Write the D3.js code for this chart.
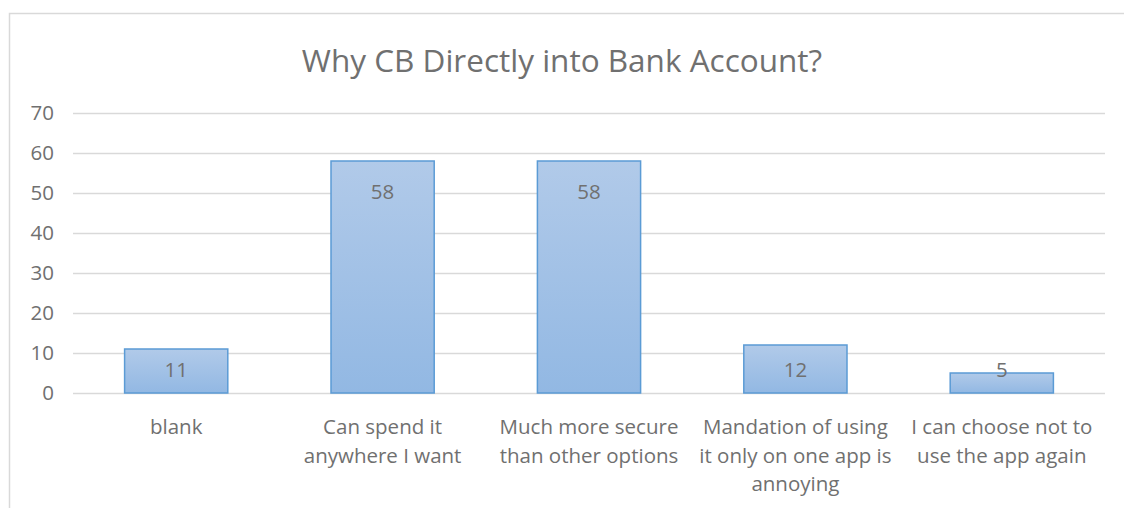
<!DOCTYPE html>
<html>
<head>
<meta charset="utf-8">
<script src="https://cdn.jsdelivr.net/npm/d3@7"></script>
<style>
  body { margin: 0; background: #fff; }
  svg { display: block; font-family: "Open Sans", Lato, sans-serif; }
</style>
</head>
<body>
<div id="chart"></div>
<script>
var width = 1124;
var height = 508;

// data
var categories = ["blank", "Can spend it anywhere I want", "Much more secure than other options",
                  "Mandation of using it only on one app is annoying", "I can choose not to use the app again"];
var tickLines = [["blank"], ["Can spend it", "anywhere I want"], ["Much more secure", "than other options"],
                 ["Mandation of using", "it only on one app is", "annoying"], ["I can choose not to", "use the app again"]];
var counts = [11, 58, 58, 12, 5];
var yTicks = [0, 10, 20, 30, 40, 50, 60, 70];

var textColor = "#707070";

var svg = d3.select("#chart")
    .append("svg")
    .attr("width", width)
    .attr("height", height);

var grad = svg.append("defs").append("linearGradient")
    .attr("id", "barFill")
    .attr("x1", 0).attr("y1", 0).attr("x2", 0).attr("y2", 1);
grad.append("stop").attr("offset", "0%").attr("stop-color", "#b1cae9");
grad.append("stop").attr("offset", "100%").attr("stop-color", "#92b8e3");

// outer chart border (runs off the right and bottom)
svg.append("rect")
    .attr("x", 9.5).attr("y", 13.5)
    .attr("width", width).attr("height", height)
    .attr("fill", "none")
    .attr("stroke", "#d9d9d9")
    .attr("stroke-width", 1.5);

svg.append("text")
    .attr("x", 562)
    .attr("y", 72)
    .attr("text-anchor", "middle")
    .attr("fill", textColor)
    .style("font-size", "31.5px")
    .text("Why CB Directly into Bank Account?");

var xScale = d3.scaleBand().domain(categories).range([73, 1105]).paddingInner(0.5).paddingOuter(0.25);
var yScale = d3.scaleLinear().domain([0, 70]).range([393, 113]);

// gridlines
var yAxis = d3.axisLeft(yScale).tickValues(yTicks).tickSize(-(1105 - 73)).tickPadding(19);
var yG = svg.append("g")
    .attr("transform", "translate(73,0)")
    .call(yAxis);
yG.select(".domain").remove();
yG.selectAll(".tick line").attr("stroke", "#d9d9d9").attr("stroke-width", 1.5);
yG.selectAll(".tick text")
    .attr("fill", textColor)
    .style("font-family", "'Open Sans', sans-serif")
    .style("font-size", "20.5px");

// bars
svg.selectAll("rect.bar")
    .data(counts)
    .enter()
    .append("rect")
    .attr("class", "bar")
    .attr("x", function(d, i) { return xScale(categories[i]); })
    .attr("y", function(d) { return yScale(d); })
    .attr("width", xScale.bandwidth())
    .attr("height", function(d) { return yScale(0) - yScale(d); })
    .attr("fill", "url(#barFill)")
    .attr("stroke", "#5b9bd5")
    .attr("stroke-width", 1.5);

// value labels
svg.selectAll("text.val")
    .data(counts)
    .enter()
    .append("text")
    .attr("class", "val")
    .attr("x", function(d, i) { return xScale(categories[i]) + xScale.bandwidth() / 2; })
    .attr("y", function(d) { return Math.min(yScale(d) + 31, 370); })
    .attr("dy", "0.35em")
    .attr("text-anchor", "middle")
    .attr("fill", textColor)
    .style("font-size", "20.5px")
    .text(function(d) { return d; });

// x category labels
var xLab = svg.selectAll("text.cat")
    .data(categories)
    .enter()
    .append("text")
    .attr("class", "cat")
    .attr("text-anchor", "middle")
    .attr("fill", textColor)
    .style("font-size", "20.5px")
    .attr("x", function(d) { return xScale(d) + xScale.bandwidth() / 2; })
    .attr("y", 427);

xLab.each(function(d, i) {
    d3.select(this).selectAll("tspan")
        .data(tickLines[i])
        .enter()
        .append("tspan")
        .attr("x", xScale(d) + xScale.bandwidth() / 2)
        .attr("dy", function(t, j) { return j === 0 ? "0.35em" : "28.5px"; })
        .text(function(t) { return t; });
});
</script>
</body>
</html>
